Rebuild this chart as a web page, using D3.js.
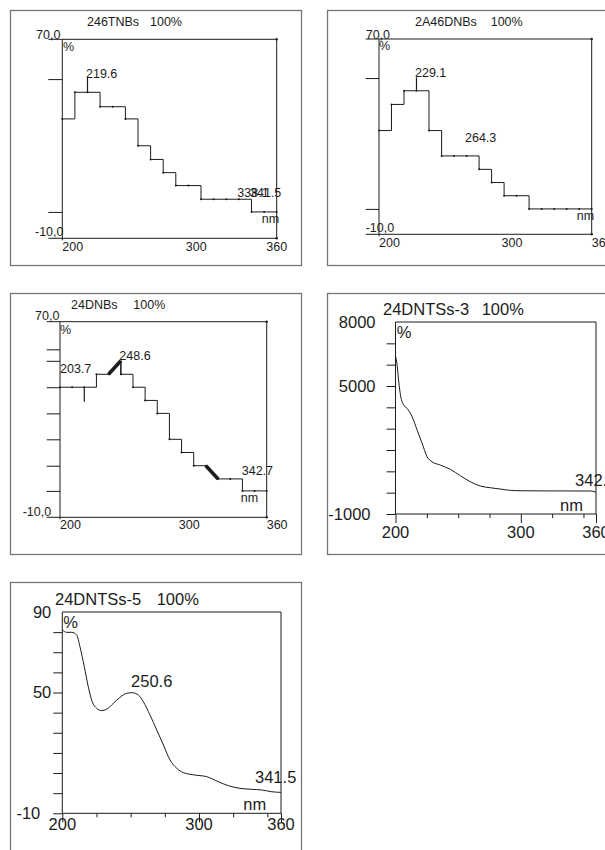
<!DOCTYPE html>
<html>
<head>
<meta charset="utf-8">
<script src="https://cdn.jsdelivr.net/npm/d3@7"></script>
<style>
  body { margin: 0; background: #fff; }
  svg { display: block; font-family: "Liberation Sans", Arial, sans-serif; }
</style>
</head>
<body>
<svg id="chart" width="605" height="850"></svg>
<script>
// sample wavelengths (nm) of the stepped spectra
var stepNm = [200, 209.4, 218.8, 228.2, 237.6, 247.1, 256.5, 265.9, 275.3, 284.7, 294.1, 303.5, 312.9, 322.4, 331.8, 341.2, 350.6, 360];

// 246TNBs (%)
var tnbVal = [38, 48.7, 48.7, 42.9, 42.9, 38, 27.2, 21.7, 16.4, 11.2, 11.2, 5.7, 5.7, 5.7, 5.7, 0.6, 0.6, 0.6];
var tnbTicks = [54, 0.6];
var tnbMarkNm = [218.8], tnbMarkFrom = [48.7], tnbMarkTo = [54.7];
var tnbLabels = ["219.6", "338.1", "341.5"], tnbLabelNm = [217.7, 330.6, 340.1], tnbLabelVal = [54.4, 6.5, 6.5];

// 2A46DNBs (%)
var a46Val = [32.5, 43.2, 48.8, 48.8, 32.5, 22.1, 22.1, 22.1, 16.6, 11.2, 5.8, 5.8, 0.4, 0.4, 0.4, 0.4, 0.4, 0.4];
var a46Ticks = [54, 0.4];
var a46MarkNm = [228.2], a46MarkFrom = [48.8], a46MarkTo = [54.3];
var a46Labels = ["229.1", "264.3"], a46LabelNm = [227.1, 264.7], a46LabelVal = [54.4, 27.8];

// 24DNBs (%)
var dnbVal = [43.2, 43.2, 43.2, 48.5, 48.5, 48.5, 43.2, 37.8, 32.5, 21.9, 16.5, 11.1, 11.1, 5.7, 5.7, 0.8, 0.8, 0.8];
var dnbSlopeAt = [4, 12], dnbSlopeEnd = [54.0, 5.7];
var dnbTicks = [58.7, 54, 43.2, 32.5, 21.9, 11.1, 0.8];
var dnbMarkNm = [218.8, 247.1], dnbMarkFrom = [43.2, 48.5], dnbMarkTo = [37.3, 54.0];
var dnbLabels = ["203.7", "248.6", "342.7"], dnbLabelNm = [200, 245.9, 340.7], dnbLabelVal = [48.9, 54.3, 7.3];

// 24DNTSs-3
var dnts3Nm = [200, 201.3, 202.6, 204, 206.1, 209.3, 213.3, 217.3, 221.3, 225.2, 229.2, 235.8, 243.8, 251.8, 259.7, 267.7, 275.6, 283.6, 291.6, 299.5, 320, 340, 356.7, 360];
var dnts3Val = [6420, 5972, 5191, 4569, 4147, 3946, 3553, 2931, 2308, 1681, 1447, 1293, 1092, 792, 511, 310, 231, 170, 109, 90, 82, 80, 76, 15];
var dnts3Ticks = [-1000, 0, 1000, 2000, 3000, 4000, 5000, 6000, 7000];
var dnts3YLabels = [8000, 5000, -1000];
var dnts3Labels = ["342.7"], dnts3LabelNm = [343.3], dnts3LabelVal = [310];

// 24DNTSs-5
var dnts5Nm = [200, 203.2, 206.9, 210.5, 212.9, 216.1, 219, 221.9, 225.1, 228.8, 232.5, 237.3, 242.2, 247.1, 251.2, 255.6, 259.3, 264.2, 269.1, 274, 278.8, 283.7, 288.5, 297.1, 305.6, 314.1, 321.5, 330, 338.6, 345.9, 353.2, 360];
var dnts5Val = [81.1, 79.9, 79.9, 78.6, 72.8, 62.8, 52.9, 45.4, 42.2, 41, 41.7, 44.6, 47.6, 49.6, 49.9, 48.8, 45.4, 38.8, 31.4, 23.9, 16.5, 12.4, 10.2, 9, 8.2, 5.7, 3.7, 2.4, 1.9, 1.6, 0.7, 0.4];
var dnts5Ticks = [-10, 0, 10, 20, 30, 40, 50, 60, 70, 80];
var dnts5YLabels = [90, 50, -10];
var dnts5Labels = ["250.6", "341.5"], dnts5LabelNm = [250.3, 341], dnts5LabelVal = [52.7, 5.1];

var xLabels = [200, 300, 360];
var xMinor = [225, 250, 275, 325, 350];
var stepYLabels = [70, -10];

var svg = d3.select("#chart");
var ink = "#1c1c1c";

function zip3(a, b, c) { return a.map(function(d, i) { return [d, b[i], c[i]]; }); }

function panel(cfg) {
  var g = svg.append("g");
  var p = cfg.plot;
  var fs = cfg.font;

  g.append("rect")
    .attr("x", cfg.box[0] + 0.5).attr("y", cfg.box[1] + 0.5)
    .attr("width", cfg.box[2] - cfg.box[0]).attr("height", cfg.box[3] - cfg.box[1])
    .attr("fill", "none").attr("stroke", "#777").attr("stroke-width", 1.3);

  var x = d3.scaleLinear().domain([200, 360]).range([p.l, p.r]);
  var y = d3.scaleLinear().domain(cfg.yDomain).range([p.b, p.t]);

  function hline(x1, x2, yy) {
    g.append("line").attr("x1", x1).attr("x2", x2).attr("y1", yy).attr("y2", yy)
      .attr("stroke", ink).attr("stroke-width", 1);
  }
  function vline(xx, y1, y2) {
    g.append("line").attr("x1", xx).attr("x2", xx).attr("y1", y1).attr("y2", y2)
      .attr("stroke", ink).attr("stroke-width", 1);
  }

  // left ticks
  var ya = g.append("g").attr("transform", "translate(" + p.l + ",0)")
    .call(d3.axisLeft(y).tickValues(cfg.yTicks).tickSize(cfg.tickLen).tickFormat(""));
  ya.select(".domain").remove();
  ya.selectAll("line").attr("stroke", ink);

  if (cfg.kind == "step") {
    hline(p.l - cfg.tickLen, p.r, p.t);
    hline(p.l - cfg.tickLen, p.r, p.b);
    vline(p.l, p.t, p.b + 2);
    vline(p.r, p.t, p.b);
    g.selectAll(".end").data([p.t, p.b]).enter().append("circle")
      .attr("cx", p.r).attr("cy", function(d) { return d; }).attr("r", 1.2).attr("fill", ink);
  } else {
    hline(p.l, p.r, p.t);
    hline(p.l, p.r, p.b);
    vline(p.l, p.t, p.b);
    vline(p.r, p.t, p.b);
    var xm = g.append("g").attr("transform", "translate(0," + p.b + ")")
      .call(d3.axisBottom(x).tickValues(xMinor).tickSize(4).tickFormat(""));
    xm.select(".domain").remove();
    var xM = g.append("g").attr("transform", "translate(0," + p.b + ")")
      .call(d3.axisBottom(x).tickValues(xLabels).tickSize(9).tickFormat(""));
    xM.select(".domain").remove();
    g.selectAll(".tick line").attr("stroke", ink);
  }

  // x labels
  g.selectAll(".xl").data(xLabels).enter().append("text")
    .attr("x", function(d) { return x(d); })
    .attr("y", p.b + cfg.xLabelDy)
    .attr("text-anchor", function(d, i) { return cfg.xAnchor[i]; })
    .attr("font-size", fs).attr("fill", ink)
    .text(function(d) { return d; });

  // y labels
  g.selectAll(".yl").data(cfg.yLabels).enter().append("text")
    .attr("x", function(d, i) { return p.l + cfg.yLabelOff[i]; })
    .attr("y", function(d, i) { return y(d) + cfg.yLabelDy[i]; })
    .attr("dy", cfg.kind == "step" ? 0 : "0.35em")
    .attr("text-anchor", cfg.kind == "step" ? "start" : "end")
    .attr("font-size", fs).attr("fill", ink)
    .text(function(d) { return cfg.yFormat(d); });

  // title, unit texts
  g.append("text").attr("x", cfg.title[1]).attr("y", cfg.title[3])
    .attr("font-size", fs).attr("fill", ink).text(cfg.title[0]);
  g.append("text").attr("x", cfg.title[2]).attr("y", cfg.title[3])
    .attr("font-size", fs).attr("fill", ink).text("100%");
  g.append("text").attr("x", p.l + cfg.pct[0]).attr("y", p.t + cfg.pct[1])
    .attr("font-size", fs).attr("fill", ink).text("%");
  g.append("text").attr("x", p.r + cfg.nm[0]).attr("y", p.b + cfg.nm[1])
    .attr("font-size", fs).attr("fill", ink).text("nm");

  var line = d3.line().x(function(d) { return x(d[0]); }).y(function(d) { return y(d[1]); });

  if (cfg.kind == "step") {
    var xs = stepNm, vs = cfg.values, sAt = cfg.slopeAt || [], sEnd = cfg.slopeEnd || [];
    var pts = [[xs[0], vs[0]]];
    for (var i = 0; i < xs.length - 1; i++) {
      var k = sAt.indexOf(i);
      pts.push([xs[i + 1], k >= 0 ? sEnd[k] : vs[i]]);
      pts.push([xs[i + 1], vs[i + 1]]);
    }
    g.append("path").attr("d", line(pts)).attr("fill", "none")
      .attr("stroke", ink).attr("stroke-width", 1);
    sAt.forEach(function(i, k) {
      g.append("path").attr("d", line([[xs[i], vs[i]], [xs[i + 1], sEnd[k]]]))
        .attr("fill", "none").attr("stroke", ink).attr("stroke-width", 3.6);
    });
    g.selectAll(".pt").data(xs).enter().append("circle")
      .attr("cx", function(d) { return x(d); })
      .attr("cy", function(d, i) { return y(vs[i]); })
      .attr("r", 1).attr("fill", ink);
    g.selectAll(".mk").data(cfg.marks).enter().append("line")
      .attr("x1", function(d) { return x(d[0]); }).attr("x2", function(d) { return x(d[0]); })
      .attr("y1", function(d) { return y(d[1]); }).attr("y2", function(d) { return y(d[2]); })
      .attr("stroke", ink).attr("stroke-width", 1.2);
  } else {
    var cpts = cfg.nmArr.map(function(d, i) { return [d, cfg.values[i]]; });
    g.append("path").attr("d", line.curve(d3.curveMonotoneX)(cpts)).attr("fill", "none")
      .attr("stroke", ink).attr("stroke-width", 1);
  }

  g.selectAll(".pk").data(cfg.labels).enter().append("text")
    .attr("x", function(d) { return x(d[1]); })
    .attr("y", function(d) { return y(d[2]); })
    .attr("font-size", fs).attr("fill", ink)
    .text(function(d) { return d[0]; });
}

// "70,0" style labels with a plain hyphen
var fmtComma = function(d) { return d.toFixed(1).replace(".", ","); };
var fmtPlain = function(d) { return String(d); };

panel({
  kind: "step", box: [10, 10, 301, 265], plot: { l: 62.3, t: 39.3, r: 276.7, b: 238.3 },
  yDomain: [-10, 70], font: 12.5, tickLen: 14, values: tnbVal, yTicks: tnbTicks,
  marks: zip3(tnbMarkNm, tnbMarkFrom, tnbMarkTo), labels: zip3(tnbLabels, tnbLabelNm, tnbLabelVal),
  yLabels: stepYLabels, yLabelOff: [-26.3, -27.3], yLabelDy: [-0.3, -2.3], yFormat: fmtComma,
  xLabelDy: 12.4, xAnchor: ["start", "middle", "middle"],
  title: ["246TNBs", 87, 150, 25.5], pct: [0.7, 11.2], nm: [-15, -15]
});

panel({
  kind: "step", box: [327, 10, 640, 265], plot: { l: 379, t: 39, r: 591.7, b: 234.3 },
  yDomain: [-10, 70], font: 12.5, tickLen: 13.3, values: a46Val, yTicks: a46Ticks,
  marks: zip3(a46MarkNm, a46MarkFrom, a46MarkTo), labels: zip3(a46Labels, a46LabelNm, a46LabelVal),
  yLabels: stepYLabels, yLabelOff: [-13.3, -13.3], yLabelDy: [0, -2.6], yFormat: fmtComma,
  xLabelDy: 12.4, xAnchor: ["start", "middle", "start"],
  title: ["2A46DNBs", 415, 490.7, 25.5], pct: [0, 11], nm: [-15, -14.3]
});

panel({
  kind: "step", box: [10, 293, 301, 554], plot: { l: 60, t: 321.7, r: 266.7, b: 517.3 },
  yDomain: [-10, 70], font: 12.5, tickLen: 13.3, values: dnbVal, yTicks: dnbTicks,
  slopeAt: dnbSlopeAt, slopeEnd: dnbSlopeEnd,
  marks: zip3(dnbMarkNm, dnbMarkFrom, dnbMarkTo), labels: zip3(dnbLabels, dnbLabelNm, dnbLabelVal),
  yLabels: stepYLabels, yLabelOff: [-25, -37.3], yLabelDy: [-1.7, -1.3], yFormat: fmtComma,
  xLabelDy: 12, xAnchor: ["start", "middle", "start"],
  title: ["24DNBs", 71, 133.3, 308.5], pct: [0, 12.3], nm: [-26, -15]
});

panel({
  kind: "curve", box: [327, 293, 640, 554], plot: { l: 395.5, t: 322, r: 596, b: 514 },
  yDomain: [-1000, 8000], font: 16.5, tickLen: 9, nmArr: dnts3Nm, values: dnts3Val, yTicks: dnts3Ticks,
  labels: zip3(dnts3Labels, dnts3LabelNm, dnts3LabelVal),
  yLabels: dnts3YLabels, yLabelOff: [-20, -20, -25], yLabelDy: [0, 0, 0], yFormat: fmtPlain,
  xLabelDy: 24, xAnchor: ["middle", "middle", "middle"],
  title: ["24DNTSs-3", 383, 481.7, 315], pct: [1.2, 16.3], nm: [-36, -3.3]
});

panel({
  kind: "curve", box: [10, 582, 301, 870], plot: { l: 62.3, t: 612, r: 281, b: 813.3 },
  yDomain: [-10, 90], font: 16.5, tickLen: 9, nmArr: dnts5Nm, values: dnts5Val, yTicks: dnts5Ticks,
  labels: zip3(dnts5Labels, dnts5LabelNm, dnts5LabelVal),
  yLabels: dnts5YLabels, yLabelOff: [-11, -11, -22], yLabelDy: [0, 0, 0], yFormat: fmtPlain,
  xLabelDy: 17, xAnchor: ["middle", "middle", "middle"],
  title: ["24DNTSs-5", 55, 156.7, 605], pct: [1, 16], nm: [-37.7, -3.3]
});
</script>
</body>
</html>
